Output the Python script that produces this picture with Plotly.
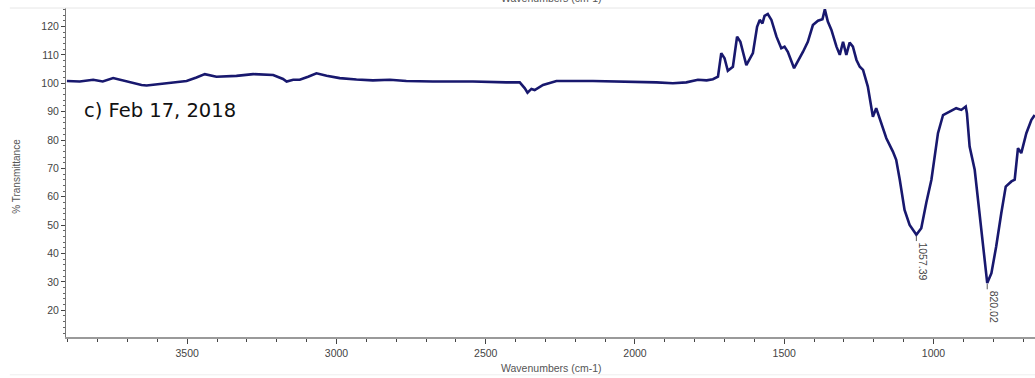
import plotly.graph_objects as go

# Wavenumbers (cm-1) and % transmittance
wavenumber = [3903, 3860, 3815, 3783, 3748, 3703, 3653, 3636, 3600, 3558, 3502, 3469, 3441,
              3402, 3335, 3279, 3212, 3179, 3167, 3145, 3123, 3095, 3067, 3033, 2989, 2933,
              2878, 2821, 2766, 2677, 2543, 2431, 2386, 2369, 2360, 2347, 2336, 2308, 2263,
              2141, 2040, 1928, 1873, 1850, 1828, 1789, 1760, 1739, 1722, 1711, 1700, 1689,
              1672, 1658, 1647, 1627, 1605, 1591, 1582, 1573, 1566, 1555, 1543, 1526, 1510,
              1499, 1488, 1467, 1454, 1437, 1421, 1404, 1387, 1372, 1364, 1354, 1342, 1325,
              1314, 1303, 1292, 1281, 1270, 1258, 1247, 1236, 1220, 1203, 1192, 1175, 1158,
              1136, 1125, 1113, 1097, 1080, 1068, 1057.39, 1041, 1030, 1024, 1007, 985, 968,
              957, 924, 907, 892, 888, 879, 862, 846, 834, 825, 820.02, 806, 790, 773, 758,
              739, 728, 717, 706, 689, 672, 661]
transmittance = [100.8, 100.6, 101.2, 100.6, 101.8, 100.6, 99.4, 99.2, 99.6, 100.0, 100.8, 102.0, 103.2,
                 102.3, 102.6, 103.2, 102.9, 101.5, 100.6, 101.2, 101.2, 102.3, 103.5, 102.6, 101.8, 101.3,
                 101.0, 101.2, 100.8, 100.6, 100.6, 100.3, 100.3, 98.2, 96.7, 98.0, 97.6, 99.4, 100.8,
                 100.8, 100.6, 100.3, 100.0, 100.2, 100.3, 101.2, 101.0, 101.4, 102.3, 110.6, 108.8, 104.4,
                 105.8, 116.4, 114.6, 106.4, 110.6, 119.9, 122.3, 121.1, 123.7, 124.4, 122.3, 116.4, 112.3,
                 112.9, 111.1, 105.3, 107.6, 111.1, 114.6, 120.5, 122.0, 122.5, 126.0, 121.7, 118.8, 112.9,
                 110.0, 114.6, 110.0, 114.3, 112.9, 108.2, 105.8, 104.7, 98.8, 88.2, 91.2, 85.9, 80.6,
                 75.9, 73.0, 66.0, 55.4, 50.1, 48.0, 46.6, 48.9, 55.4, 58.0, 66.0, 82.4, 88.8,
                 89.4, 91.2, 90.6, 91.8, 89.4, 77.7, 69.5, 54.2, 42.5, 33.1, 29.6, 33.1, 42.5, 54.2, 63.6,
                 65.4, 66.0, 77.1, 75.4, 82.4, 87.1, 88.8]

peak_wn = [1057.39, 820.02]
peak_t = [46.6, 29.6]
peak_labels = ["1057.39", "820.02"]
peak_label_t = [37.1, 21.2]

x_ticks = [3500, 3000, 2500, 2000, 1500, 1000]
y_ticks = [20, 30, 40, 50, 60, 70, 80, 90, 100, 110, 120]

FONT = "Liberation Sans, Arial, sans-serif"
GREY = "#555555"

fig = go.Figure()
fig.add_trace(go.Scatter(x=wavenumber, y=transmittance, mode="lines",
                         line=dict(color="#18186e", width=2.6), hoverinfo="skip"))

# small peak marker ticks
tick_x, tick_y = [], []
for w, t in zip(peak_wn, peak_t):
    tick_x += [w, w, None]
    tick_y += [t - 0.3, t - 2.2, None]
fig.add_trace(go.Scatter(x=tick_x, y=tick_y, mode="lines",
                         line=dict(color="#555555", width=1), hoverinfo="skip"))

for w, lab, yt in zip(peak_wn, peak_labels, peak_label_t):
    fig.add_annotation(x=w, y=yt, xref="x", yref="y", text=lab, showarrow=False,
                       textangle=90, xshift=7, xanchor="center", yanchor="middle",
                       font=dict(family=FONT, size=10.5, color="#444444"))

fig.add_annotation(x=0.0165, y=0.687, xref="paper", yref="paper", text="c) Feb 17, 2018",
                   showarrow=False, xanchor="left", yanchor="middle",
                   font=dict(family="DejaVu Sans, Verdana, sans-serif", size=19.5, color="#111111"))

fig.add_annotation(x=-0.0506, y=0.49, xref="paper", yref="paper", text="% Transmittance",
                   showarrow=False, textangle=-90, xanchor="center", yanchor="middle",
                   font=dict(family=FONT, size=10, color=GREY))
fig.add_annotation(x=0.5015, y=-0.093, xref="paper", yref="paper", text="Wavenumbers (cm-1)",
                   showarrow=False, xanchor="center", yanchor="middle",
                   font=dict(family=FONT, size=10.5, color=GREY))
# clipped label from the chart above
fig.add_annotation(x=0.5015, y=1.03, xref="paper", yref="paper", text="Wavenumbers (cm-1)",
                   showarrow=False, xanchor="center", yanchor="middle",
                   font=dict(family=FONT, size=10.5, color=GREY))

# faint frame lines
fig.add_shape(type="line", xref="paper", yref="paper", x0=-0.058, x1=1, y0=1, y1=1,
              line=dict(color="#e6e6e6", width=1))
fig.add_shape(type="line", xref="paper", yref="paper", x0=-0.058, x1=1, y0=-0.115, y1=-0.115,
              line=dict(color="#eeeeee", width=1))

fig.update_xaxes(range=[3906, 660], tickvals=x_ticks, ticks="outside", ticklen=5, tickwidth=1,
                 tickcolor="#444444", showline=True, linecolor="#9a9a9a", linewidth=2,
                 showgrid=False, zeroline=False,
                 tickfont=dict(family=FONT, size=10.5, color="#444444"),
                 minor=dict(dtick=100, ticks="outside", ticklen=3, tickcolor="#444444", showgrid=False))
fig.update_yaxes(range=[10.6, 126.5], tickvals=y_ticks, ticks="outside", ticklen=4, tickwidth=1,
                 tickcolor="#444444", showline=True, linecolor="#777777", linewidth=1,
                 showgrid=False, zeroline=False,
                 tickfont=dict(family=FONT, size=10.5, color="#444444"),
                 minor=dict(dtick=2, ticks="outside", ticklen=2, tickcolor="#666666", showgrid=False))

fig.update_layout(width=1035, height=378, margin=dict(l=66, r=0, t=8, b=41),
                  plot_bgcolor="white", paper_bgcolor="white", showlegend=False)

fig.write_html("out.html", config={"displayModeBar": False},
               post_script="document.body.style.margin='0';document.body.style.padding='0';"
                           "document.documentElement.style.overflow='hidden';")
